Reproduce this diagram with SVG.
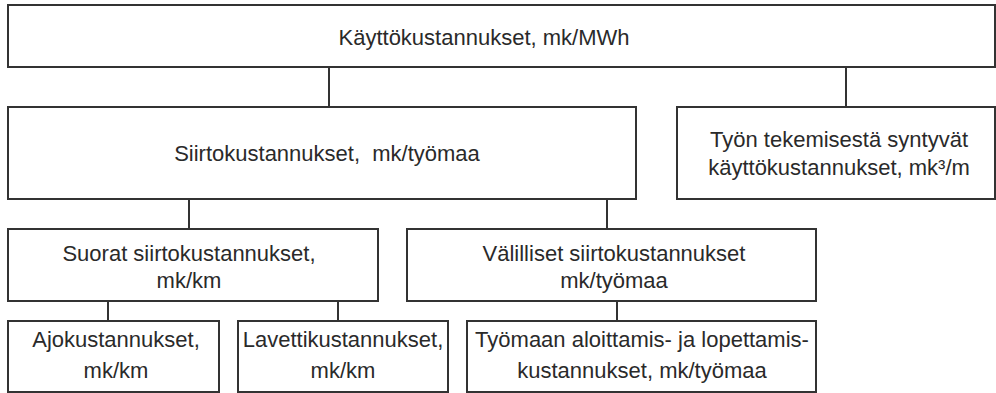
<svg xmlns="http://www.w3.org/2000/svg" width="996" height="393" viewBox="0 0 996 393">
<style>
.box{fill:#fff;stroke:#333;stroke-width:2}
.ln{stroke:#333;stroke-width:2;fill:none}
text{font-family:"Liberation Sans",Arial,sans-serif;font-size:22px;fill:#2a2a2a;text-anchor:middle;white-space:pre}
</style>
<rect width="996" height="393" fill="#fff"/>
<g id="connectors">
<line class="ln" x1="329" y1="67" x2="329" y2="107"/>
<line class="ln" x1="846" y1="67" x2="846" y2="107"/>
<line class="ln" x1="189" y1="199" x2="189" y2="229"/>
<line class="ln" x1="607" y1="199" x2="607" y2="229"/>
<line class="ln" x1="108" y1="301" x2="108" y2="321"/>
<line class="ln" x1="338" y1="301" x2="338" y2="321"/>
<line class="ln" x1="617" y1="301" x2="617" y2="321"/>
</g>
<g id="kaytto">
<rect class="box" x="8" y="5" width="987" height="62"/>
<text x="484" y="45">Käyttökustannukset, mk/MWh</text>
</g>
<g id="siirto">
<rect class="box" x="8" y="107" width="628" height="92"/>
<text x="327" y="161">Siirtokustannukset,  mk/työmaa</text>
</g>
<g id="tyon">
<rect class="box" x="677" y="107" width="318" height="92"/>
<text x="839" y="147">Työn tekemisestä syntyvät</text>
<text x="839" y="175">käyttökustannukset, mk³/m</text>
</g>
<g id="suorat">
<rect class="box" x="8" y="229" width="370" height="72"/>
<text x="189" y="261">Suorat siirtokustannukset,</text>
<text x="189" y="288">mk/km</text>
</g>
<g id="valilliset">
<rect class="box" x="407" y="229" width="409" height="72"/>
<text x="614" y="261">Välilliset siirtokustannukset</text>
<text x="614" y="288">mk/työmaa</text>
</g>
<g id="ajo">
<rect class="box" x="8" y="321" width="211" height="71"/>
<text x="116" y="347">Ajokustannukset,</text>
<text x="116" y="378">mk/km</text>
</g>
<g id="lavetti">
<rect class="box" x="238" y="321" width="210" height="71"/>
<text x="343" y="347">Lavettikustannukset,</text>
<text x="343" y="378">mk/km</text>
</g>
<g id="tyomaan">
<rect class="box" x="467" y="321" width="349" height="71"/>
<text x="642" y="347">Työmaan aloittamis- ja lopettamis-</text>
<text x="642" y="378">kustannukset, mk/työmaa</text>
</g>
</svg>
